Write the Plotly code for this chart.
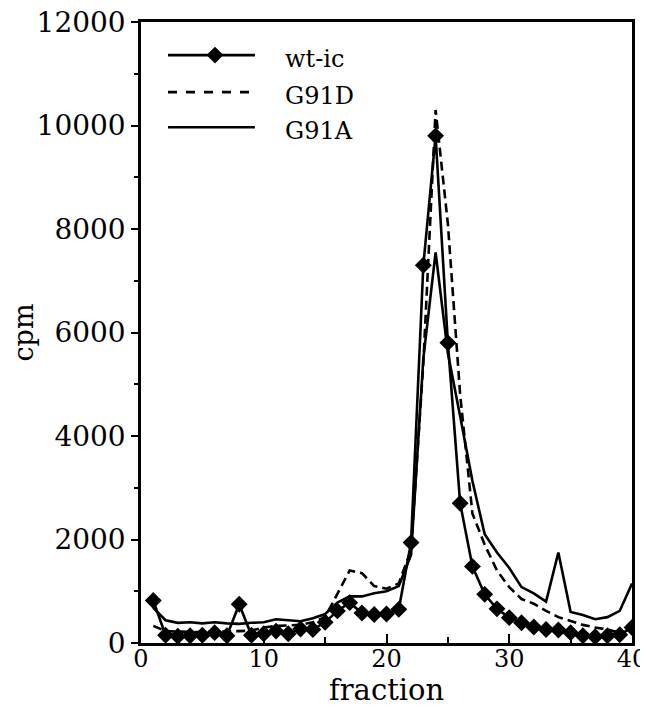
import plotly.graph_objects as go

fraction = list(range(1, 41))

wt_ic = [820, 150, 130, 140, 150, 200, 140, 750, 150, 180,
         230, 180, 270, 260, 400, 620, 780, 580, 550, 560,
         650, 1940, 7300, 9800, 5800, 2700, 1480, 940, 660, 490,
         390, 310, 260, 250, 200, 140, 120, 140, 160, 300]

g91d_x = list(range(1, 40))
g91d = [330, 230, 220, 210, 210, 220, 220, 230, 240, 300,
        330, 340, 350, 400, 500, 950, 1400, 1350, 1100, 1050,
        1150, 1800, 5400, 10300, 8100, 4800, 2500, 1900, 1400, 1080,
        850, 760, 620, 500, 430, 350, 300, 260, 200]

g91a = [680, 440, 390, 400, 380, 400, 380, 370, 390, 400,
        460, 440, 420, 480, 560, 780, 900, 900, 960, 1000,
        1100, 1700, 5500, 7550, 5600, 4380, 3130, 2100, 1750, 1450,
        1080, 960, 800, 1750, 600, 540, 460, 500, 620, 1150]

series_names = ["wt-ic", "G91D", "G91A"]

y_ticks = [0, 2000, 4000, 6000, 8000, 10000, 12000]
y_ticktext = [str(v) for v in y_ticks]
x_ticks = [0, 10, 20, 30, 40]
x_title = "fraction"
y_title = "cpm"

FONT = "DejaVu Serif"

fig = go.Figure()
fig.add_trace(go.Scatter(x=fraction, y=g91a, mode="lines", name=series_names[2],
                         line=dict(color="black", width=2.6), showlegend=False))
fig.add_trace(go.Scatter(x=g91d_x, y=g91d, mode="lines", name=series_names[1],
                         line=dict(color="black", width=2.6, dash="9px,5px"), showlegend=False))
fig.add_trace(go.Scatter(x=fraction, y=wt_ic, mode="lines+markers", name=series_names[0],
                         line=dict(color="black", width=2.6),
                         marker=dict(symbol="diamond", size=13, color="black"), showlegend=False))

# manual legend (long sample lines like the original)
leg_y = [0.9467, 0.8871, 0.8306]
dashes = ["solid", "dash", "solid"]
for i, nm in enumerate(series_names):
    fig.add_shape(type="line", xref="paper", yref="paper", x0=0.055, x1=0.232,
                  y0=leg_y[i], y1=leg_y[i],
                  line=dict(color="black", width=2.6, dash=dashes[i]))
    fig.add_annotation(xref="paper", yref="paper", x=0.289, y=leg_y[i] - 0.006,
                       text=nm, showarrow=False, xanchor="left", yanchor="middle",
                       font=dict(family=FONT, size=24, color="black"))
fig.add_trace(go.Scatter(x=[0.1507], y=[leg_y[0]], xaxis="x2", yaxis="y2", mode="markers",
                         marker=dict(symbol="diamond", size=13, color="black"),
                         showlegend=False, hoverinfo="skip"))

# x-axis title placed close under the tick labels, as in the original
fig.add_annotation(xref="paper", yref="paper", x=0.5, y=-0.075, text=x_title,
                   showarrow=False, xanchor="center", yanchor="middle",
                   font=dict(family=FONT, size=29, color="black"))

# the page body adds an 8px margin, so the figure is sized/offset to compensate
fig.update_layout(
    width=640, height=716,
    margin=dict(l=133, r=16, t=14, b=81),
    paper_bgcolor="white", plot_bgcolor="white",
    font=dict(family=FONT, size=28, color="black"),
    xaxis=dict(range=[0, 40], tickvals=x_ticks, ticks="inside", ticklen=9,
               tickwidth=2, tickcolor="black", automargin=False,
               ticklabeloverflow="allow", ticklabelstandoff=-8,
               tickfont=dict(size=24),
               minor=dict(tickvals=[5, 15, 25, 35], ticks="inside", ticklen=6, tickwidth=1.5,
                          tickcolor="black"),
               showline=True, linewidth=2.5, linecolor="black", mirror=True,
               showgrid=False, zeroline=False),
    yaxis=dict(range=[0, 12000], tickvals=y_ticks, ticktext=y_ticktext,
               ticks="outside", ticklen=7, tickwidth=2, tickcolor="black", automargin=False,
               ticklabeloverflow="allow",
               tickfont=dict(size=28),
               minor=dict(tickvals=[1000, 3000, 5000, 7000, 9000, 11000], ticks="outside",
                          ticklen=4, tickwidth=1.5, tickcolor="black"),
               showline=True, linewidth=2.5, linecolor="black", mirror=True,
               showgrid=False, zeroline=False,
               title=dict(text=y_title, font=dict(size=27), standoff=4)),
    xaxis2=dict(range=[0, 1], overlaying="x", visible=False),
    yaxis2=dict(range=[0, 1], overlaying="y", visible=False),
)

fig.write_html("out.html")
